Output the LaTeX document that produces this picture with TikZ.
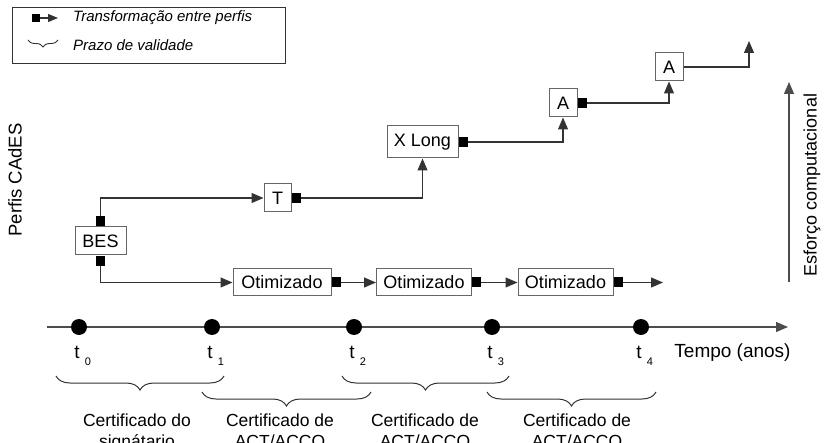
\documentclass[tikz,border=0pt]{standalone}
\usepackage{fontspec}
\setmainfont{Liberation Sans}
\usetikzlibrary{arrows.meta,decorations.pathreplacing,calc}
\begin{document}
\begin{tikzpicture}[x=1pt,y=-1pt,
  big/.style={font=\fontsize{18}{21}\selectfont},
  box/.style={draw=black!60, line width=1pt, fill=white, inner sep=0pt, big},
  sqr/.style={fill=black, draw=none, minimum width=9pt, minimum height=10pt, inner sep=0pt},
  conn/.style={draw=black!80, line width=1.1pt, -{Triangle[length=12pt,width=10pt]}},
  bigdot/.style={circle, fill=black, draw=none, minimum size=16pt, inner sep=0pt},
  sub/.style={font=\fontsize{11}{12}\selectfont, inner sep=0pt},
  brc/.style={draw=black!80, line width=1pt, decorate, decoration={brace, mirror, amplitude=14pt}},
  leg/.style={font=\fontsize{15}{17}\selectfont\itshape, inner sep=0pt, anchor=west},
  lbl/.style={font=\fontsize{17.5}{21}\selectfont, align=center, inner sep=0pt, anchor=north}
]
\useasboundingbox (0,0) rectangle (824,443);

% legend
\draw[draw=black!80, line width=1pt] (12,8) rectangle (285,64);
\node[sqr, minimum width=8pt, minimum height=8pt] (lsq) at (36,18) {};
\coordinate (larr) at (58,18);
\draw[draw=black!80, line width=1.1pt, -{Triangle[length=10pt,width=8pt]}] (lsq.east) -- (larr);
\node[leg] (legA) at (73,18) {Transformação entre perfis};
\draw[draw=black!80, line width=0.9pt, decorate, decoration={brace, mirror, amplitude=7pt}] (28,40) -- (58,40);
\node[leg] (legB) at (73,45) {Prazo de validade};

% profile boxes
\node[box, minimum width=51pt, minimum height=28pt] (bes) at (100.5,241) {BES};
\node[sqr, anchor=south] (besT) at (bes.north) {};
\node[sqr, anchor=north] (besB) at (bes.south) {};
\node[box, minimum width=27pt, minimum height=28pt] (t) at (277.5,198) {T};
\node[sqr, anchor=west] (tS) at (t.east) {};
\node[box, minimum width=71pt, minimum height=32pt] (xl) at (422.5,142) {X Long};
\node[sqr, anchor=west] (xS) at (xl.east) {};
\node[box, minimum width=28pt, minimum height=28pt] (a1) at (563,103) {A};
\node[sqr, anchor=west] (a1S) at (a1.east) {};
\node[box, minimum width=28pt, minimum height=28pt] (a2) at (669,67) {A};
\coordinate (aend) at (749,41);

\node[box, minimum width=98pt, minimum height=27pt] (o1) at (282,282.5) {Otimizado};
\node[sqr, anchor=west] (o1S) at (o1.east) {};
\node[box, minimum width=95pt, minimum height=27pt] (o2) at (424,282.5) {Otimizado};
\node[sqr, anchor=west] (o2S) at (o2.east) {};
\node[box, minimum width=95pt, minimum height=27pt] (o3) at (565.5,282.5) {Otimizado};
\node[sqr, anchor=west] (o3S) at (o3.east) {};
\coordinate (oend) at (663,282.5);

\draw[conn] (besT.north) |- (t.west);
\draw[conn] (besB.south) |- (o1.west);
\draw[conn] (tS.east) -| (xl.south);
\draw[conn] (xS.east) -| (a1.south);
\draw[conn] (a1S.east) -| (a2.south);
\draw[conn] (a2.east) -| (aend);
\draw[conn] (o1S.east) -- (o2.west);
\draw[conn] (o2S.east) -- (o3.west);
\draw[conn] (o3S.east) -- (oend);

% timeline
\coordinate (tlA) at (47,327);
\coordinate (tlB) at (788,327);
\draw[conn, draw=black!70] (tlA) -- (tlB);
\foreach \i/\x in {0/79,1/212,2/354,3/492,4/641}{
  \node[bigdot] (d\i) at (\x,327) {};
  \node[font=\fontsize{19}{21}\selectfont, inner sep=0pt] (lt\i) at (\x-2,352) {t};
  \node[sub] (ls\i) at (\x+9,362) {\i};
}
\node[font=\fontsize{19}{21}\selectfont, inner sep=0pt] (tempo) at (732.5,353) {Tempo (anos)};

% braces
\draw[brc] (56,376) -- (224,376);
\draw[brc] (342,376) -- (509,376);
\draw[brc] (202,392) -- (371,392);
\draw[brc] (487,392) -- (656,392);

\node[lbl] (c0) at (137,414) {Certificado do\\signátario};
\node[lbl] (c1) at (280,414) {Certificado de\\ACT/ACCO};
\node[lbl] (c2) at (425,414) {Certificado de\\ACT/ACCO};
\node[lbl] (c3) at (577,414) {Certificado de\\ACT/ACCO};

% axes labels
\node[font=\fontsize{18.5}{21}\selectfont, rotate=90, inner sep=0pt] (perfis) at (15,180) {Perfis CAdES};
\coordinate (eA) at (789,282);
\coordinate (eB) at (789,82);
\draw[conn, draw=black!70] (eA) -- (eB);
\node[big, rotate=90, inner sep=0pt] (esf) at (812,185) {Esforço computacional};
\end{tikzpicture}
\end{document}
